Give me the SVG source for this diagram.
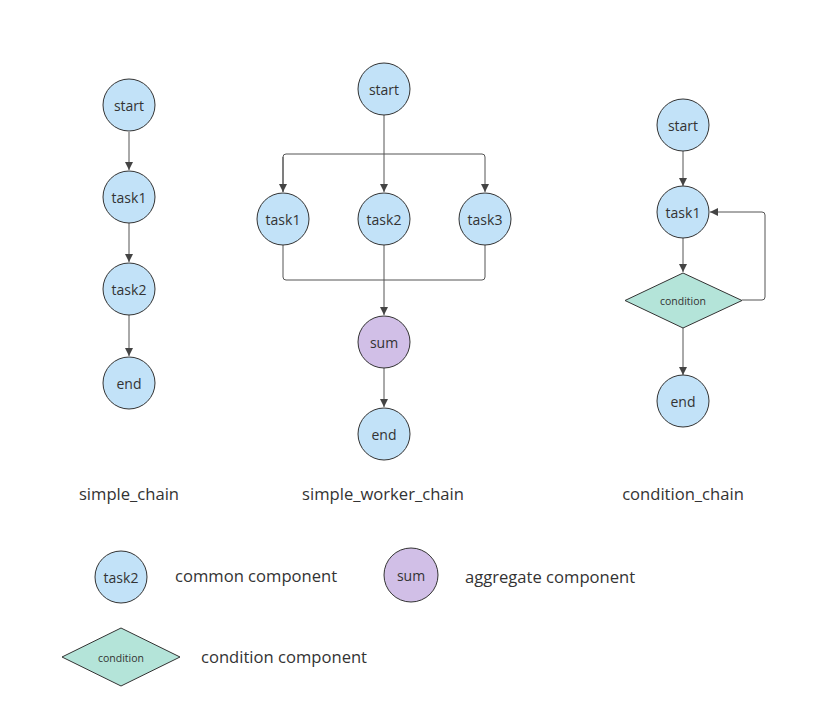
<svg xmlns="http://www.w3.org/2000/svg" width="839" height="725" viewBox="0 0 839 725">
<style>
.c{fill:#C2E2F8;stroke:#333;stroke-width:1}
.p{fill:#D1BFE7;stroke:#333;stroke-width:1}
.d{fill:#B4E4D9;stroke:#333;stroke-width:1}
.t{font-family:"Open Sans","Liberation Sans",sans-serif;font-size:14px;fill:#333;text-anchor:middle;dominant-baseline:central}
.s{font-size:10.5px}
.lbl{font-family:"Open Sans","Liberation Sans",sans-serif;font-size:16.6px;fill:#333;dominant-baseline:central}
.e{fill:none;stroke:#555;stroke-width:1}
</style>
<defs>
<marker id="ah" viewBox="0 0 10 10" refX="10" refY="5" markerWidth="8" markerHeight="8" markerUnits="userSpaceOnUse" orient="auto">
<path d="M0,0 L10,5 L0,10 z" fill="#444"/>
</marker>
</defs>
<rect width="839" height="725" fill="#fff"/>
<g id="connectors">
<path class="e" d="M129,132 V170" marker-end="url(#ah)"/>
<path class="e" d="M129,223 V262" marker-end="url(#ah)"/>
<path class="e" d="M129,315 V356" marker-end="url(#ah)"/>
<path class="e" d="M384,115 V154"/>
<path class="e" d="M283,192 V157 Q283,154 286,154 H482 Q485,154 485,157 V192" marker-end="url(#ah)"/>
<path class="e" d="M283,157 V192" marker-end="url(#ah)"/>
<path class="e" d="M384,154 V192" marker-end="url(#ah)"/>
<path class="e" d="M283,245 V277 Q283,280 286,280 H482 Q485,280 485,277 V245"/>
<path class="e" d="M384,245 V315" marker-end="url(#ah)"/>
<path class="e" d="M384,368 V407" marker-end="url(#ah)"/>
<path class="e" d="M683,151 V186" marker-end="url(#ah)"/>
<path class="e" d="M683,238 V272" marker-end="url(#ah)"/>
<path class="e" d="M683,328 V375" marker-end="url(#ah)"/>
<path class="e" d="M742,300 H762 Q765,300 765,297 V215 Q765,212 762,212 H710" marker-end="url(#ah)"/>
</g>
<g id="sc_start"><circle class="c" cx="129" cy="105" r="26"/><text class="t" x="129" y="105">start</text></g>
<g id="sc_task1"><circle class="c" cx="129" cy="197" r="26"/><text class="t" x="129" y="197">task1</text></g>
<g id="sc_task2"><circle class="c" cx="129" cy="289" r="26"/><text class="t" x="129" y="289">task2</text></g>
<g id="sc_end"><circle class="c" cx="129" cy="383" r="26"/><text class="t" x="129" y="383">end</text></g>
<g id="wc_start"><circle class="c" cx="384" cy="89" r="26"/><text class="t" x="384" y="89">start</text></g>
<g id="wc_task1"><circle class="c" cx="283" cy="219" r="26"/><text class="t" x="283" y="219">task1</text></g>
<g id="wc_task2"><circle class="c" cx="384" cy="219" r="26"/><text class="t" x="384" y="219">task2</text></g>
<g id="wc_task3"><circle class="c" cx="485" cy="219" r="26"/><text class="t" x="485" y="219">task3</text></g>
<g id="wc_sum"><circle class="p" cx="384" cy="342" r="26"/><text class="t" x="384" y="342">sum</text></g>
<g id="wc_end"><circle class="c" cx="384" cy="434" r="26"/><text class="t" x="384" y="434">end</text></g>
<g id="cc_start"><circle class="c" cx="683" cy="125" r="26"/><text class="t" x="683" y="125">start</text></g>
<g id="cc_task1"><circle class="c" cx="683" cy="212" r="26"/><text class="t" x="683" y="212">task1</text></g>
<g id="cc_condition"><polygon class="d" points="683,273 742,300.5 683,328 625,300.5"/><text class="t s" x="683" y="301">condition</text></g>
<g id="cc_end"><circle class="c" cx="683" cy="401" r="26"/><text class="t" x="683" y="401">end</text></g>
<g id="titles">
<text class="lbl" x="129" y="493" text-anchor="middle">simple_chain</text>
<text class="lbl" x="383" y="493" text-anchor="middle">simple_worker_chain</text>
<text class="lbl" x="683" y="493" text-anchor="middle">condition_chain</text>
</g>
<g id="legend_common"><circle class="c" cx="121" cy="577" r="26"/><text class="t" x="121" y="577">task2</text><text class="lbl" x="175" y="575">common component</text></g>
<g id="legend_aggregate"><circle class="p" cx="411" cy="575" r="27"/><text class="t" x="411" y="575">sum</text><text class="lbl" x="465" y="576">aggregate component</text></g>
<g id="legend_condition"><polygon class="d" points="121,628 180,657 121,686 62,657"/><text class="t s" x="121" y="658">condition</text><text class="lbl" x="201" y="656">condition component</text></g>
</svg>
